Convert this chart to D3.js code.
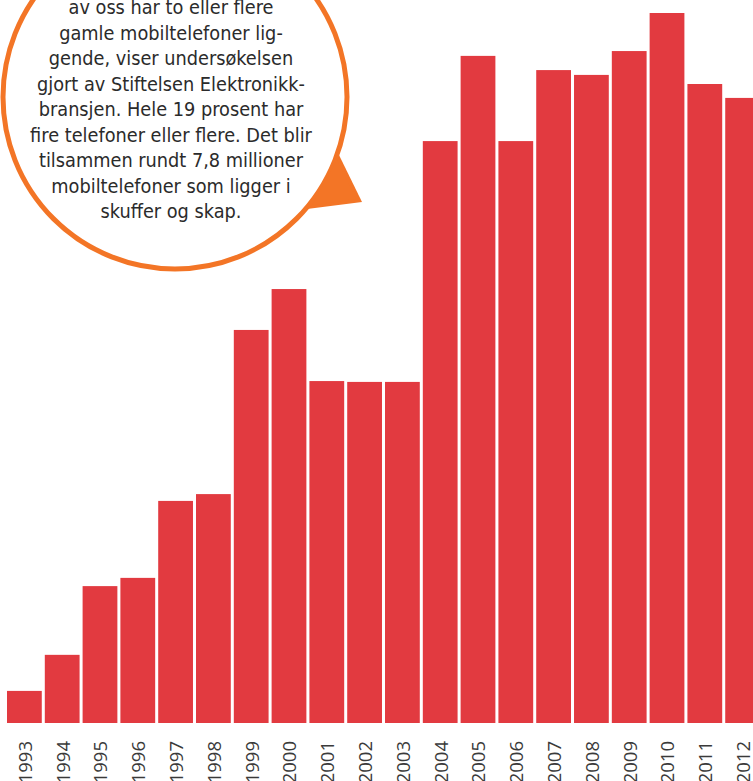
<!DOCTYPE html>
<html>
<head>
<meta charset="utf-8">
<script src="https://cdn.jsdelivr.net/npm/d3@7/dist/d3.min.js"></script>
<style>
  html, body { margin: 0; padding: 0; background: #ffffff; }
  svg { display: block; }
</style>
</head>
<body>
<script>
// Data (mobile phones sold, thousands)
const years = ["1993","1994","1995","1996","1997","1998","1999","2000","2001","2002",
               "2003","2004","2005","2006","2007","2008","2009","2010","2011","2012"];
const sales = [113, 240, 482, 511, 782, 806, 1384, 1528, 1204, 1201,
               1201, 2049, 2349, 2049, 2299, 2282, 2366, 2500, 2250, 2201];
const bubbleLines = [
  "av oss har to eller flere",
  "gamle mobiltelefoner lig-",
  "gende, viser undersøkelsen",
  "gjort av Stiftelsen Elektronikk-",
  "bransjen. Hele 19 prosent har",
  "fire telefoner eller flere. Det blir",
  "tilsammen rundt 7,8 millioner",
  "mobiltelefoner som ligger i",
  "skuffer og skap."
];

const W = 753, H = 781;
const svg = d3.select("body").append("svg").attr("width", W).attr("height", H);

const x = d3.scaleBand().domain(years).range([7, 760]).paddingInner(0.08).paddingOuter(0);
const y = d3.scaleLinear().domain([0, 2500]).range([723, 13]);

svg.append("g").selectAll("rect").data(years).join("rect")
  .attr("x", d => x(d))
  .attr("width", x.bandwidth())
  .attr("y", (d, i) => y(sales[i]))
  .attr("height", (d, i) => y(0) - y(sales[i]))
  .attr("fill", "#e23a40");

// year labels
svg.append("g").selectAll("text").data(years).join("text")
  .attr("transform", d => `translate(${x(d) + x.bandwidth() / 2 + 1},741) rotate(-90)`)
  .attr("dy", "0.35em")
  .attr("text-anchor", "end")
  .attr("font-family", "'Open Sans', sans-serif")
  .attr("font-size", 18.5)
  .attr("fill", "#3a3a3a")
  .text(d => d);

// speech bubble
const bubble = svg.append("g");
bubble.append("path")
  .attr("d", "M339,155 L362,202 L307,209 Z")
  .attr("fill", "#f37526");
bubble.append("circle")
  .attr("cx", 175).attr("cy", 97).attr("r", 172)
  .attr("fill", "#ffffff")
  .attr("stroke", "#f37526").attr("stroke-width", 5);
// cover the stroke where the pointer joins
bubble.append("path")
  .attr("d", "M337,160 L356,199 L312,205 Z")
  .attr("fill", "#f37526");

const tg = bubble.append("g")
  .attr("font-family", "'Liberation Sans Narrow', 'DejaVu Sans Condensed', sans-serif")
  .attr("font-size", 20)
  .attr("fill", "#2b2b2b")
  .attr("text-anchor", "middle");
const lines = tg.selectAll("text").data(bubbleLines).join("text")
  .attr("x", 171)
  .attr("y", (d, i) => 14 + i * 25.5)
  .text(d => d);
// fit the longest line to the reference width
const longest = d3.max(lines.nodes(), n => n.getComputedTextLength());
tg.attr("font-size", 20 * 282 / longest);
</script>
</body>
</html>
